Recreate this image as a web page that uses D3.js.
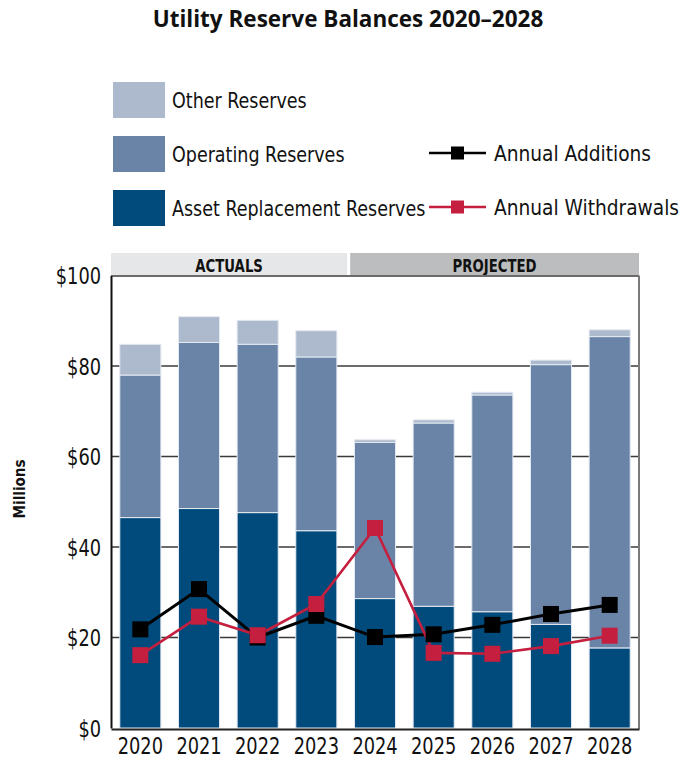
<!DOCTYPE html>
<html><head><meta charset="utf-8">
<script src="https://cdn.jsdelivr.net/npm/d3@7"></script>
<style>
html,body{margin:0;padding:0;background:#fff;}
svg{display:block;}
.cond{font-family:"DejaVu Sans Condensed","DejaVu Sans",sans-serif;}
</style></head>
<body>
<svg id="chart" width="696" height="759"></svg>
<script>
const years = ["2020","2021","2022","2023","2024","2025","2026","2027","2028"];
const assetReplacement = [46.5, 48.5, 47.6, 43.6, 28.6, 26.9, 25.7, 22.9, 17.7];
const operating = [31.5, 36.7, 37.2, 38.4, 34.5, 40.5, 47.9, 57.4, 68.8];
const other = [6.8, 5.7, 5.3, 5.8, 0.6, 0.7, 0.6, 1.0, 1.5];
const additions = [21.8, 30.7, 20.0, 24.8, 20.1, 20.7, 22.8, 25.2, 27.2];
const withdrawals = [16.1, 24.6, 20.5, 27.4, 44.2, 16.6, 16.4, 18.1, 20.4];
const yTicks = [0, 20, 40, 60, 80, 100];
const periods = [{label:"ACTUALS", first:"2020", last:"2023"}, {label:"PROJECTED", first:"2024", last:"2028"}];
const seriesNames = ["Asset Replacement Reserves","Operating Reserves","Other Reserves"];
const colors = {"Asset Replacement Reserves":"#004b7b","Operating Reserves":"#6a84a8","Other Reserves":"#adb9cc"};

const svg = d3.select("#chart");
const L=111, R=639, T=275.5, B=728;
const x = d3.scaleBand().domain(years).range([L,R]).paddingInner(0.3).paddingOuter(0.15);
const y = d3.scaleLinear().domain([0,100]).range([B,T]);

// horizontal condensing of a text element around its own x anchor
function condense(sel, f){
  sel.each(function(){
    const t = d3.select(this);
    const ax = +t.attr("x") || 0;
    const prev = t.attr("transform") || "";
    t.attr("transform", `${prev} translate(${ax},0) scale(${f},1) translate(${-ax},0)`);
  });
}

// title
svg.append("text").attr("x",348).attr("y",27).attr("text-anchor","middle")
  .attr("font-family","'Open Sans', sans-serif").attr("font-weight","bold").attr("font-size",22.5)
  .attr("fill","#111").text("Utility Reserve Balances 2020\u20132028");

// period bands
periods.forEach((p,i)=>{
  const x0 = i===0 ? L : (x(periods[0].last)+x.bandwidth()+x(p.first))/2 + 4.5;
  const x1 = i===0 ? (x(p.last)+x.bandwidth()+x(periods[1].first))/2 + 1.5 : R;
  svg.append("rect").attr("x",x0).attr("y",253).attr("width",x1-x0).attr("height",22)
    .attr("fill", i===0 ? "#e6e7e8" : "#bcbdbf");
  svg.append("text").attr("class","cond").attr("x",(x0+x1)/2).attr("y",272).attr("text-anchor","middle")
    .attr("font-weight","bold").attr("font-size",18).attr("fill","#111").text(p.label)
    .call(condense,0.82);
});

// gridlines
svg.append("g").selectAll("line").data(yTicks.filter(t=>t>0&&t<100)).join("line")
  .attr("x1",L).attr("x2",R).attr("y1",d=>y(d)).attr("y2",d=>y(d))
  .attr("stroke","#3a3a3a").attr("stroke-width",1.5);

// stacked bars
const rows = years.map((yr,i)=>({year:yr,"Asset Replacement Reserves":assetReplacement[i],"Operating Reserves":operating[i],"Other Reserves":other[i]}));
const stack = d3.stack().keys(seriesNames)(rows);
svg.append("g").selectAll("g").data(stack).join("g").attr("fill",d=>colors[d.key])
  .selectAll("rect").data(d=>d).join("rect")
  .attr("x",d=>x(d.data.year)).attr("width",x.bandwidth())
  .attr("y",d=>y(d[1])).attr("height",d=>y(d[0])-y(d[1]))
  .attr("stroke","#e4eaf2").attr("stroke-width",1);

// frame
svg.append("line").attr("x1",L).attr("x2",R).attr("y1",T+0.5).attr("y2",T+0.5).attr("stroke","#6b6b6b").attr("stroke-width",2);
svg.append("line").attr("x1",R).attr("x2",R).attr("y1",T).attr("y2",B+1).attr("stroke","#7a7a7a").attr("stroke-width",2);

// axes
const yAxis = svg.append("g").attr("transform",`translate(${L},0)`)
  .call(d3.axisLeft(y).tickValues(yTicks).tickSize(0).tickPadding(10).tickFormat(d=>"$"+d));
yAxis.select(".domain").attr("stroke","#111").attr("stroke-width",2);
yAxis.selectAll("text").attr("class","cond").attr("font-size",23).attr("fill","#111").attr("dy","0.36em")
  .call(condense,0.86);

const xAxis = svg.append("g").attr("transform",`translate(0,${B+1})`)
  .call(d3.axisBottom(x).tickSize(0).tickPadding(8));
xAxis.select(".domain").attr("stroke","#222").attr("stroke-width",2);
xAxis.selectAll("text").attr("class","cond").attr("font-size",23).attr("fill","#111").attr("dy","0.72em")
  .call(condense,0.86);

svg.append("text").attr("class","cond").attr("transform","translate(25,489) rotate(-90)")
  .attr("text-anchor","middle").attr("font-weight","bold").attr("font-size",15).attr("fill","#111").text("Millions");

// lines
const lineGen = d3.line().x((d,i)=>x(years[i])+x.bandwidth()/2).y(d=>y(d));
const lineSeries = [{name:"Annual Additions",vals:additions,color:"#000000",w:3},
                    {name:"Annual Withdrawals",vals:withdrawals,color:"#c41f3e",w:2.6}];
lineSeries.forEach(s=>{
  svg.append("path").attr("d",lineGen(s.vals)).attr("fill","none").attr("stroke",s.color).attr("stroke-width",s.w);
});
lineSeries.forEach(s=>{
  svg.append("g").selectAll("rect").data(s.vals).join("rect")
    .attr("x",(d,i)=>x(years[i])+x.bandwidth()/2-8).attr("y",d=>y(d)-8)
    .attr("width",16).attr("height",16).attr("fill",s.color);
});

// legend
const legBars = [{name:"Other Reserves",y:100},{name:"Operating Reserves",y:154},{name:"Asset Replacement Reserves",y:208}];
legBars.forEach(l=>{
  svg.append("rect").attr("x",113).attr("y",l.y-18).attr("width",52).attr("height",36).attr("fill",colors[l.name]);
  svg.append("text").attr("class","cond").attr("x",172).attr("y",l.y).attr("dy","0.35em")
    .attr("font-size",22).attr("fill","#111").text(l.name).call(condense,0.885);
});
const legLines = [{s:lineSeries[0],y:153},{s:lineSeries[1],y:207}];
legLines.forEach(l=>{
  svg.append("line").attr("x1",429).attr("x2",486).attr("y1",l.y).attr("y2",l.y).attr("stroke",l.s.color).attr("stroke-width",2.5);
  svg.append("rect").attr("x",451).attr("y",l.y-6.5).attr("width",13).attr("height",13).attr("fill",l.s.color);
  svg.append("text").attr("class","cond").attr("x",494).attr("y",l.y).attr("dy","0.35em")
    .attr("font-size",22).attr("fill","#111").text(l.s.name).call(condense,0.94);
});
</script>
</body></html>
